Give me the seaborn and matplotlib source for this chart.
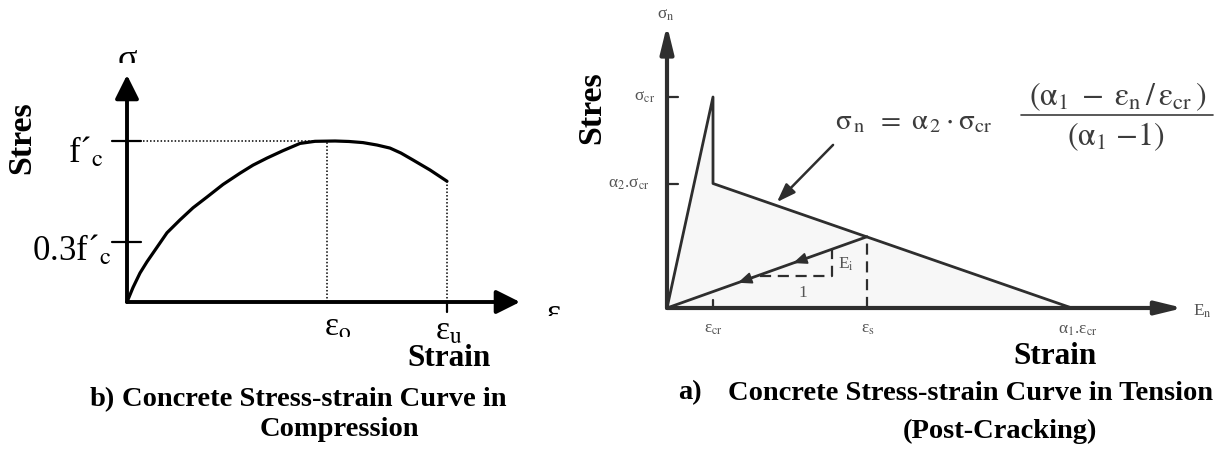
import matplotlib
matplotlib.use("Agg")
import matplotlib.pyplot as plt
from matplotlib.lines import Line2D
import pandas as pd
import seaborn as sns
from matplotlib.transforms import Bbox, TransformedBbox

# ---- compression curve (strain / eps_o, stress / f'c) ----
comp_strain = [0.0, 0.03, 0.065, 0.10, 0.15, 0.20, 0.265, 0.33, 0.40, 0.48, 0.565,
               0.63, 0.70, 0.78, 0.865, 0.94, 1.04, 1.11, 1.18, 1.25, 1.315,
               1.37, 1.43, 1.515, 1.60]
comp_stress = [0.0, 0.09, 0.18, 0.25, 0.34, 0.43, 0.51, 0.585, 0.652, 0.73, 0.80,
               0.85, 0.894, 0.94, 0.985, 0.998, 1.0, 0.997, 0.99, 0.975, 0.956,
               0.925, 0.882, 0.82, 0.75]
eps_o, eps_u = 1.0, 1.6
fc, fc_low = 1.0, 0.37
fc_u = 0.75

# ---- tension curve (strain / eps_cr, stress / sigma_cr) ----
ten_strain = [0.0, 1.0, 1.0, 8.8]
ten_stress = [0.0, 1.0, 0.59, 0.0]
unload_strain = [0.0, 4.35]
unload_stress = [0.0, 0.338]
eps_cr, eps_s, alpha1, alpha2 = 1.0, 4.35, 8.8, 0.59
sig_s = 0.338
slope_x = [2.02, 3.59, 3.59]
slope_y = [0.152, 0.152, 0.279]
dir_marks = [1.54, 2.74]

W, H = 1231, 450
sns.set_theme(style="white")
plt.rcParams["font.family"] = ["Liberation Serif", "DejaVu Serif"]
plt.rcParams["mathtext.fontset"] = "stix"
plt.rcParams["text.color"] = "black"

fig = plt.figure(figsize=(W / 100, H / 100), dpi=100)
fig.patch.set_facecolor("white")


def make_axes(ox, oy, xs, ys, xlim, ylim):
    ax = fig.add_axes([(ox + xlim[0] * xs) / W, (H - oy + ylim[0] * ys) / H,
                       (xlim[1] - xlim[0]) * xs / W, (ylim[1] - ylim[0]) * ys / H])
    ax.set_xlim(*xlim)
    ax.set_ylim(*ylim)
    ax.set_axis_off()
    ax.patch.set_alpha(0)
    return ax


def clip_px(artist, x0, y0, x1, y1):
    bb = Bbox.from_extents(x0 / W, 1 - y1 / H, x1 / W, 1 - y0 / H)
    artist.set_clip_box(TransformedBbox(bb, fig.transFigure))
    artist.set_clip_on(True)


def axis_arrow(ax, tip, color, lw, ms, hl, hw):
    ax.annotate("", xy=tip, xytext=(0, 0),
                arrowprops=dict(arrowstyle=f"-|>,head_length={hl},head_width={hw}",
                                color=color, lw=lw, mutation_scale=ms,
                                shrinkA=0, shrinkB=0), annotation_clip=False)


bold = dict(fontweight="bold", color="black")

# ================= left: compression =================
axL = make_axes(127, 302, 200, 161, (-0.65, 2.2), (-0.4, 1.6))
dfc = pd.DataFrame({"strain": comp_strain, "stress": comp_stress})
sns.lineplot(data=dfc, x="strain", y="stress", ax=axL, sort=False, estimator=None,
             color="black", lw=2.3)
axis_arrow(axL, (1.965, 0), "black", 2.8, 24, 0.6, 0.3)
axis_arrow(axL, (0, 1.41), "black", 2.8, 24, 0.6, 0.3)
dot = dict(color="black", lw=1.1, linestyle=(0, (1, 1.3)))
axL.plot([0.08, eps_o], [fc, fc], **dot)
axL.plot([eps_o, eps_o], [0, fc], **dot)
axL.plot([eps_u, eps_u], [0, fc_u], **dot)
for yv in (fc, fc_low):
    axL.plot([-0.075, 0.07], [yv, yv], color="black", lw=1.6)
axL.plot([eps_u, eps_u], [0, -0.062], color="black", lw=1.6)

axL.text(-0.115, 0.87, "f´$_\\mathrm{c}$", ha="right", va="baseline", fontsize=25)
axL.text(-0.08, 0.26, "0.3f´$_\\mathrm{c}$", ha="right", va="baseline", fontsize=25)
t = axL.text(eps_o - 0.015, -0.06, "ε$_\\mathrm{o}$", ha="left", va="top", fontsize=24)
clip_px(t, 300, 300, 380, 337)
axL.text(eps_u - 0.06, -0.085, "ε$_\\mathrm{u}$", ha="left", va="top", fontsize=24)
t = axL.text(0, 1.6, "σ", ha="center", va="top", fontsize=26)
clip_px(t, 100, 40, 160, 63)
t = axL.text(2.1, 0.02, "ε", ha="left", va="top", fontsize=24)
clip_px(t, 540, 295, 600, 316)

fig.text(22 / W, 1 - 138 / H, "Stres", rotation=90, ha="center", va="center",
         fontsize=24.5, **bold)
fig.text(449 / W, 1 - 358 / H, "Strain", ha="center", va="center", fontsize=22.5, **bold)
fig.text(115 / W, 1 - 400 / H, "b)", ha="right", va="center", fontsize=20.5, **bold)
fig.text(122 / W, 1 - 400 / H, "Concrete Stress-strain Curve in", ha="left", va="center",
         fontsize=20.5, **bold)
fig.text(339 / W, 1 - 430 / H, "Compression", ha="center", va="center",
         fontsize=20.5, **bold)

# ================= right: tension =================
ink = "#2e2e2e"
grey = "#555555"
axR = make_axes(667, 308, 46, 211, (-2.0, 12.5), (-0.2, 1.45))
axR.fill(ten_strain, ten_stress, color="#f7f7f7", zorder=0)
dft = pd.DataFrame({"strain": ten_strain, "stress": ten_stress})
sns.lineplot(data=dft, x="strain", y="stress", ax=axR, sort=False, estimator=None,
             color=ink, lw=2.0)
dfu = pd.DataFrame({"strain": unload_strain, "stress": unload_stress})
sns.lineplot(data=dfu, x="strain", y="stress", ax=axR, sort=False, estimator=None,
             color=ink, lw=2.0)
axis_arrow(axR, (11.22, 0), ink, 3.0, 18, 0.9, 0.22)
axis_arrow(axR, (0, 1.34), ink, 3.0, 18, 0.9, 0.22)

dash = dict(color=ink, lw=1.6, linestyle=(0, (5, 3)))
axR.plot([eps_s, eps_s], [0, sig_s], **dash)
axR.plot(slope_x, slope_y, **dash)
for yv in (1.0, alpha2):
    axR.plot([0, 0.24], [yv, yv], color=ink, lw=1.6)
axR.plot([eps_cr, eps_cr], [0, 0.04], color=ink, lw=1.6)

k = sig_s / eps_s
for xm in dir_marks:
    axR.annotate("", xy=(xm, k * xm), xytext=(xm + 0.35, k * (xm + 0.35)),
                 arrowprops=dict(arrowstyle="-|>,head_length=0.6,head_width=0.25",
                                 color=ink, lw=1.2, mutation_scale=14,
                                 shrinkA=0, shrinkB=0))

axR.annotate("", xy=(2.39, 0.502), xytext=(3.61, 0.773),
             arrowprops=dict(arrowstyle="-|>,head_length=0.7,head_width=0.25",
                             color=ink, lw=1.8, mutation_scale=16,
                             shrinkA=0, shrinkB=0))

small = dict(fontsize=12.5, color=grey)
axR.text(-0.02, 1.39, "σ$_\\mathrm{n}$", ha="center", va="center", **small)
axR.text(-0.26, 1.0, "σ$_\\mathrm{cr}$", ha="right", va="center", **small)
axR.text(-0.37, alpha2, "α$_2$.σ$_\\mathrm{cr}$", ha="right", va="center", **small)
axR.text(eps_cr + 0.02, -0.1, "ε$_\\mathrm{cr}$", ha="center", va="center", **small)
axR.text(eps_s + 0.02, -0.1, "ε$_\\mathrm{s}$", ha="center", va="center", **small)
axR.text(alpha1 + 0.13, -0.104, "α$_1$.ε$_\\mathrm{cr}$", ha="center", va="center", **small)
axR.text(11.43, -0.014, "E$_\\mathrm{n}$", ha="left", va="center", **small)
axR.text(3.9, 0.205, "E$_\\mathrm{i}$", ha="center", va="center", **small)
axR.text(2.96, 0.07, "1", ha="center", va="center", **small)

# constitutive law for the softening branch
fcol = "#3c3c3c"
fig.text(835 / W, 1 - 122 / H,
         r"$\mathrm{\sigma_{\,n}\ \,=\ \alpha_{\,2}\cdot\sigma_{cr}}$",
         ha="left", va="center", fontsize=21, color=fcol)
fig.text(1118 / W, 1 - 97 / H,
         r"$\mathrm{(\alpha_1\;-\;\varepsilon_n\,/\,\varepsilon_{cr}\,)}$",
         ha="center", va="center", fontsize=23, color=fcol)
fig.text(1116 / W, 1 - 137 / H, r"$\mathrm{(\alpha_1\ {-}1)}$",
         ha="center", va="center", fontsize=23, color=fcol)
fig.add_artist(Line2D([1021 / W, 1213 / W], [1 - 115 / H, 1 - 115 / H],
                      transform=fig.transFigure, color=fcol, lw=1.2))

fig.text(592 / W, 1 - 108 / H, "Stres", rotation=90, ha="center", va="center",
         fontsize=24.5, **bold)
fig.text(1055 / W, 1 - 357 / H, "Strain", ha="center", va="center", fontsize=22.5, **bold)
fig.text(702 / W, 1 - 393 / H, "a)", ha="right", va="center", fontsize=20.5, **bold)
fig.text(728 / W, 1 - 393 / H, "Concrete Stress-strain Curve in Tension", ha="left",
         va="center", fontsize=20.5, **bold)
fig.text(1000 / W, 1 - 431 / H, "(Post-Cracking)", ha="center", va="center",
         fontsize=20.5, **bold)

fig.savefig("out.png", dpi=100, facecolor="white")
